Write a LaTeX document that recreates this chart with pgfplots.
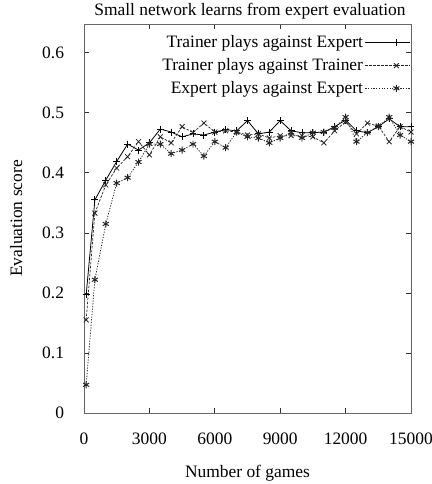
\documentclass[border=0pt]{standalone}
\usepackage{pgfplots}
\pgfplotsset{compat=1.18}
\usepackage{pgfplotstable}
\usepackage{fontspec}
\setmainfont{Liberation Serif}
\pgfplotstableread{
x y
100 0.197
500 0.355
1000 0.388
1500 0.419
2000 0.448
2500 0.438
3000 0.450
3500 0.473
4000 0.468
4500 0.460
5000 0.465
5500 0.463
6000 0.468
6500 0.472
7000 0.470
7500 0.487
8000 0.465
8500 0.468
9000 0.487
9500 0.470
10000 0.467
10500 0.467
11000 0.468
11500 0.477
12000 0.488
12500 0.470
13000 0.467
13500 0.477
14000 0.490
14500 0.477
15000 0.477
}\te
\pgfplotstableread{
x y
100 0.155
500 0.333
1000 0.380
1500 0.408
2000 0.427
2500 0.452
3000 0.430
3500 0.460
4000 0.450
4500 0.477
5000 0.467
5500 0.483
6000 0.468
6500 0.470
7000 0.468
7500 0.463
8000 0.465
8500 0.458
9000 0.462
9500 0.462
10000 0.462
10500 0.460
11000 0.450
11500 0.470
12000 0.485
12500 0.465
13000 0.483
13500 0.478
14000 0.452
14500 0.477
15000 0.468
}\tt
\pgfplotstableread{
x y
100 0.047
500 0.222
1000 0.315
1500 0.383
2000 0.392
2500 0.418
3000 0.448
3500 0.448
4000 0.432
4500 0.438
5000 0.448
5500 0.428
6000 0.452
6500 0.442
7000 0.468
7500 0.460
8000 0.458
8500 0.450
9000 0.458
9500 0.467
10000 0.458
10500 0.467
11000 0.468
11500 0.475
12000 0.493
12500 0.452
13000 0.467
13500 0.477
14000 0.493
14500 0.463
15000 0.452
}\ee
\begin{document}
\fontsize{17.5}{21}\selectfont
\begin{tikzpicture}
\path[use as bounding box] (-84bp,-71bp) rectangle (348bp,413bp);
\begin{axis}[
  at={(0,0)}, anchor=south west,
  scale only axis, width=327bp, height=389bp,
  xmin=0, xmax=15000, ymin=0, ymax=0.648,
  xtick={0,3000,6000,9000,12000,15000},
  ytick={0,0.1,0.2,0.3,0.4,0.5,0.6},
  scaled x ticks=false,
  /pgf/number format/assume math mode=true,
  xticklabel style={/pgf/number format/1000 sep={}},
  yticklabel style={/pgf/number format/.cd, fixed, precision=1},
  tick align=inside, major tick length=5bp,
  tick style={black!80, line width=0.8pt},
  axis line style={black!60, line width=1pt},
  xticklabel shift=14bp, yticklabel shift=14bp,
  xlabel={Number of games}, ylabel={Evaluation score},
  xlabel style={yshift=-9bp}, ylabel style={yshift=8bp},
  tick label style={font=\fontsize{17.5}{21}\selectfont},
  label style={font=\fontsize{17.5}{21}\selectfont},
  legend plot pos=right,
  legend cell align=right,
  legend style={draw=none, fill=none, at={(rel axis cs:1,0.976)}, anchor=north east,
    font=\fontsize{17.5}{21}\selectfont, row sep=4bp, inner sep=0pt,
    nodes={inner sep=2bp}},
  legend image code/.code={\draw[mark repeat=2, mark phase=2, #1] plot coordinates {(0bp,0bp) (31bp,0bp) (45bp,0bp)};},
]
\addplot[black, line width=0.8pt, mark=+, mark size=3.5pt, mark options={solid, line width=0.9pt}] table {\te};
\addlegendentry{Trainer plays against Expert}
\addplot[black!85, line width=0.7pt, dash pattern=on 2.5pt off 1.5pt, mark=x, mark size=3.5pt, mark options={solid, line width=0.8pt}] table {\tt};
\addlegendentry{Trainer plays against Trainer}
\addplot[black!85, line width=0.8pt, dash pattern=on 1.2pt off 1.5pt, mark=asterisk, mark size=3.5pt, mark options={solid, line width=1pt}] table {\ee};
\addlegendentry{Expert plays against Expert}
\end{axis}
\node[anchor=base, font=\fontsize{17.5}{21}\selectfont] at (166bp,397bp) {Small network learns from expert evaluation};
\end{tikzpicture}
\end{document}
